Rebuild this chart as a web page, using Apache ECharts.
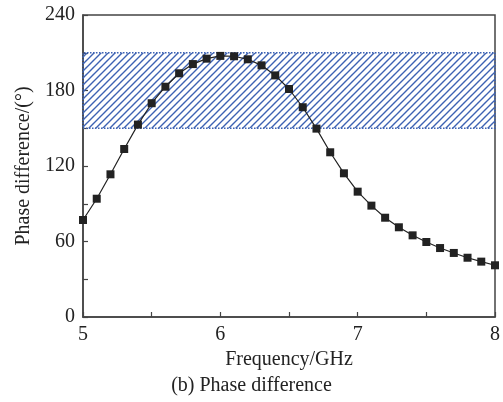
<!DOCTYPE html>
<html>
<head>
<meta charset="utf-8">
<script src="https://cdn.jsdelivr.net/npm/echarts@6/dist/echarts.min.js"></script>
<style>html,body{margin:0;padding:0;background:#fff;}#c{width:503px;height:402px;}</style>
</head>
<body>
<div id="c"></div>
<script>
const freqs = [5.0,5.1,5.2,5.3,5.4,5.5,5.6,5.7,5.8,5.9,6.0,6.1,6.2,6.3,6.4,6.5,6.6,6.7,6.8,6.9,7.0,7.1,7.2,7.3,7.4,7.5,7.6,7.7,7.8,7.9,8.0];
const phase = [77.1,94.0,113.4,133.5,152.9,169.9,183.0,193.7,201.0,205.3,207.5,207.2,204.8,200.0,192.0,181.2,166.7,149.7,130.9,114.2,99.6,88.5,78.9,71.3,64.9,59.6,54.8,50.9,47.1,44.0,41.1];
const bandRange = [150, 210];
const xTicks = [5, 6, 7, 8];
const yTicks = [0, 60, 120, 180, 240];
const xLabel = 'Frequency/GHz';
const yLabel = 'Phase difference/(°)';
const caption = '(b) Phase difference';

// hatch pattern
const tile = document.createElement('canvas');
const s = 7;
tile.width = s; tile.height = s;
const g = tile.getContext('2d');
g.strokeStyle = '#3d62b3';
g.lineWidth = 1.4;
g.beginPath();
g.moveTo(-1, s + 1); g.lineTo(s + 1, -1);
g.moveTo(-1, 1); g.lineTo(1, -1);
g.moveTo(s - 1, s + 1); g.lineTo(s + 1, s - 1);
g.stroke();

const font = 'Liberation Serif';
const chart = echarts.init(document.getElementById('c'));
chart.setOption({
  animation: false,
  grid: { left: 83, right: 5, top: 15, bottom: 85, show: true, borderColor: '#444', borderWidth: 1.5 },
  xAxis: {
    type: 'value', min: xTicks[0], max: xTicks[xTicks.length - 1], interval: 1,
    name: xLabel, nameLocation: 'middle', nameGap: 29,
    nameTextStyle: { fontFamily: font, fontSize: 20, color: '#222' },
    axisLine: { lineStyle: { color: '#444', width: 1.5 } },
    axisTick: { inside: true, length: 5, lineStyle: { color: '#444', width: 1.2 } },
    minorTick: { show: true, splitNumber: 2, length: 5, lineStyle: { color: '#444', width: 1.2 } },
    axisLabel: { fontFamily: font, fontSize: 20, color: '#222', margin: 8 },
    splitLine: { show: false }
  },
  yAxis: {
    type: 'value', min: yTicks[0], max: yTicks[yTicks.length - 1], interval: 60,
    name: yLabel, nameLocation: 'middle', nameGap: 47,
    nameTextStyle: { fontFamily: font, fontSize: 20, color: '#222' },
    axisLine: { show: true, lineStyle: { color: '#444', width: 1.5 } },
    axisTick: { show: true, inside: true, length: 5, lineStyle: { color: '#444', width: 1.2 } },
    minorTick: { show: true, splitNumber: 2, length: 5, lineStyle: { color: '#444', width: 1.2 } },
    axisLabel: { fontFamily: font, fontSize: 20, color: '#222', margin: 8 },
    splitLine: { show: false }
  },
  graphic: [{
    type: 'text', left: 'center', top: 376,
    style: { text: caption, font: '20px "Liberation Serif"', fill: '#222' }
  }],
  series: [{
    type: 'line',
    data: freqs.map((f, i) => [f, phase[i]]),
    symbol: 'rect', symbolSize: 8,
    lineStyle: { color: '#222', width: 1.2 },
    itemStyle: { color: '#222' },
    z: 5,
    markArea: {
      silent: true,
      itemStyle: {
        color: { image: tile, repeat: 'repeat' },
        borderColor: '#3d62b3', borderWidth: 1.5, borderType: 'dotted'
      },
      data: [[{ yAxis: bandRange[0] }, { yAxis: bandRange[1] }]]
    }
  }]
});
</script>
</body>
</html>
